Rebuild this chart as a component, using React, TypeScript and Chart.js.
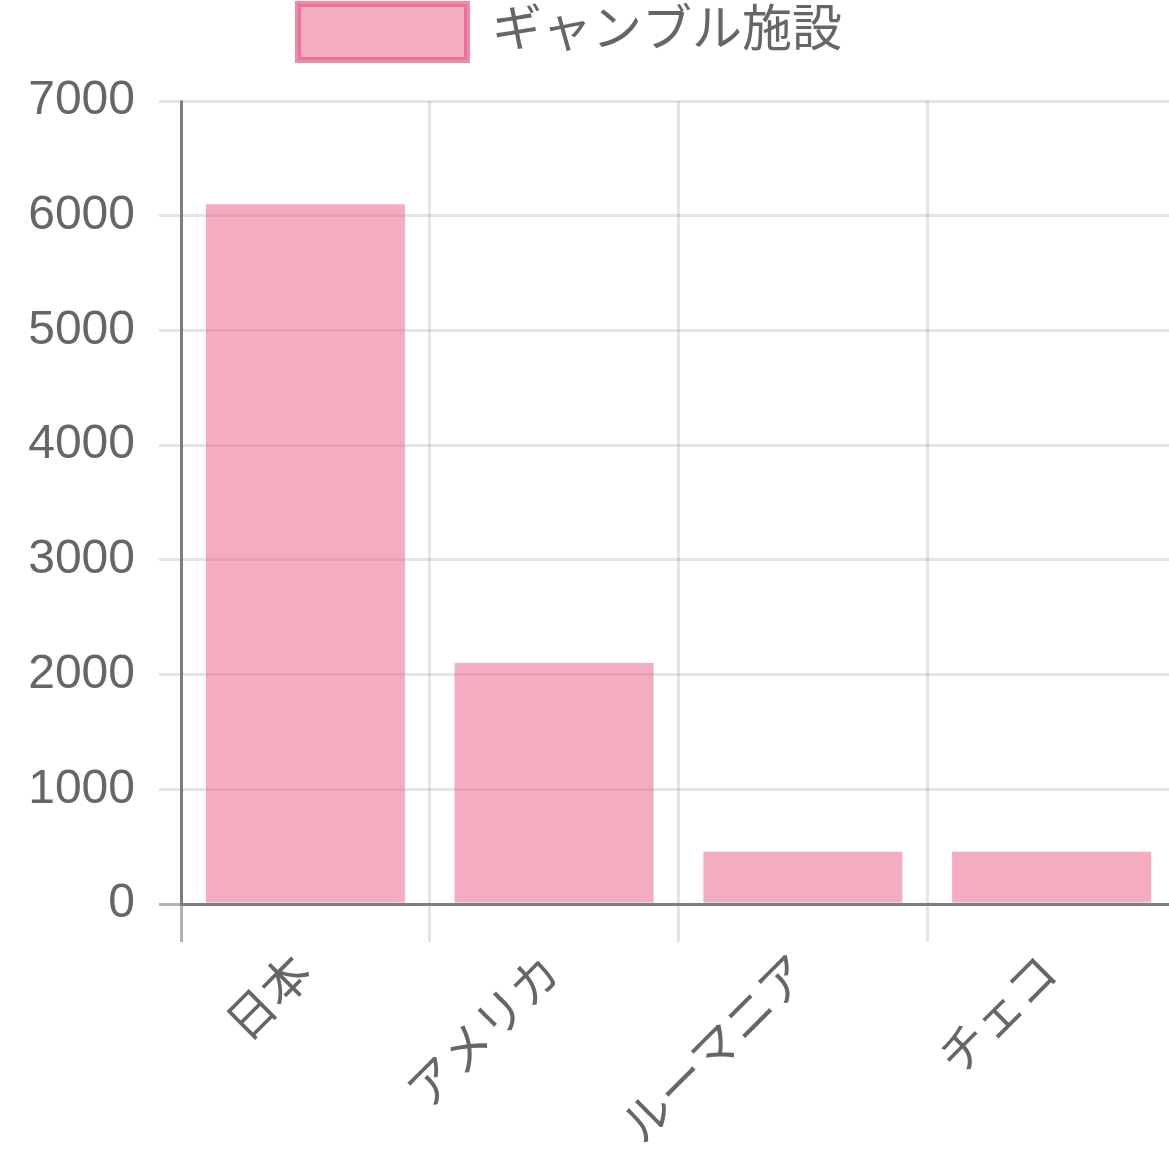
import { useEffect, useRef } from "react";
import { Chart, registerables } from "chart.js";

Chart.register(...registerables);

const categories = ["日本", "アメリカ", "ルーマニア", "チェコ"];
const facilityCounts = [6100, 2100, 455, 455];
const seriesLabel = "ギャンブル施設";
const yTickValues = [0, 1000, 2000, 3000, 4000, 5000, 6000, 7000];

const FONT = "'Liberation Sans', 'Noto Sans CJK JP', sans-serif";
const barFill = "rgba(232, 90, 130, 0.5)";
const legendBorder = "rgba(232, 90, 130, 0.7)";
const lightGrid = "rgba(0, 0, 0, 0.1)";
const darkGrid = "rgba(0, 0, 0, 0.3)";

// extra room under the legend, and nudge it a little to the left
const legendSpacer = {
  id: "legendSpacer",
  beforeInit(chart: any) {
    const origFit = chart.legend.fit;
    chart.legend.fit = function () {
      origFit.bind(this)();
      this.height += 31;
    };
  },
  afterLayout(chart: any) {
    chart.legend.right -= 36;
  },
};

const App = () => {
  const chartRef = useRef<HTMLCanvasElement>(null);
  const chartInstance = useRef<Chart | null>(null);

  useEffect(() => {
    if (!chartRef.current) return;
    if (chartInstance.current) chartInstance.current.destroy();

    chartInstance.current = new Chart(chartRef.current, {
      type: "bar",
      data: {
        labels: categories,
        datasets: [
          {
            label: seriesLabel,
            data: facilityCounts,
            backgroundColor: barFill,
            borderWidth: 0,
            barPercentage: 1,
            categoryPercentage: 0.8,
          },
        ],
      },
      plugins: [legendSpacer],
      options: {
        responsive: true,
        maintainAspectRatio: false,
        animation: false,
        layout: { padding: 0 },
        plugins: {
          tooltip: { enabled: false },
          legend: {
            display: true,
            position: "top",
            labels: {
              boxWidth: 169,
              boxHeight: 56,
              padding: 4,
              color: "#666",
              font: { size: 50, family: FONT },
              generateLabels: (chart) =>
                Chart.defaults.plugins.legend.labels
                  .generateLabels(chart)
                  .map((l) => ({ ...l, lineWidth: 6, strokeStyle: legendBorder })),
            },
          },
        },
        scales: {
          x: {
            offset: true,
            grid: {
              offset: true,
              color: (ctx) => (ctx.index === 0 ? darkGrid : lightGrid),
              lineWidth: 3,
              tickLength: 38,
            },
            border: { display: true, color: darkGrid, width: 3 },
            ticks: {
              color: "#666",
              font: { size: 48, family: FONT },
              minRotation: 45,
              maxRotation: 45,
              padding: 4,
            },
            afterFit: (scale) => {
              scale.height = 249;
            },
          },
          y: {
            min: 0,
            max: 7000,
            afterBuildTicks: (scale) => {
              scale.ticks = yTickValues.map((v) => ({ value: v }));
            },
            grid: {
              color: (ctx) => (ctx.tick && ctx.tick.value === 0 ? darkGrid : lightGrid),
              lineWidth: 3,
              tickLength: 22,
            },
            border: { display: true, color: darkGrid, width: 3 },
            ticks: {
              color: "#666",
              font: { size: 48, family: FONT },
              padding: 24,
              callback: (value) => String(value),
            },
            afterFit: (scale) => {
              scale.width = 181;
            },
          },
        },
      },
    });

    return () => {
      if (chartInstance.current) {
        chartInstance.current.destroy();
        chartInstance.current = null;
      }
    };
  }, []);

  return (
    <div
      style={{
        position: "absolute",
        left: 0,
        top: 0,
        width: 1169,
        height: 1153,
        overflow: "hidden",
        background: "#fff",
      }}
    >
      <div style={{ position: "relative", width: 1176, height: 1153 }}>
        <canvas ref={chartRef} />
      </div>
    </div>
  );
};

export default App;
